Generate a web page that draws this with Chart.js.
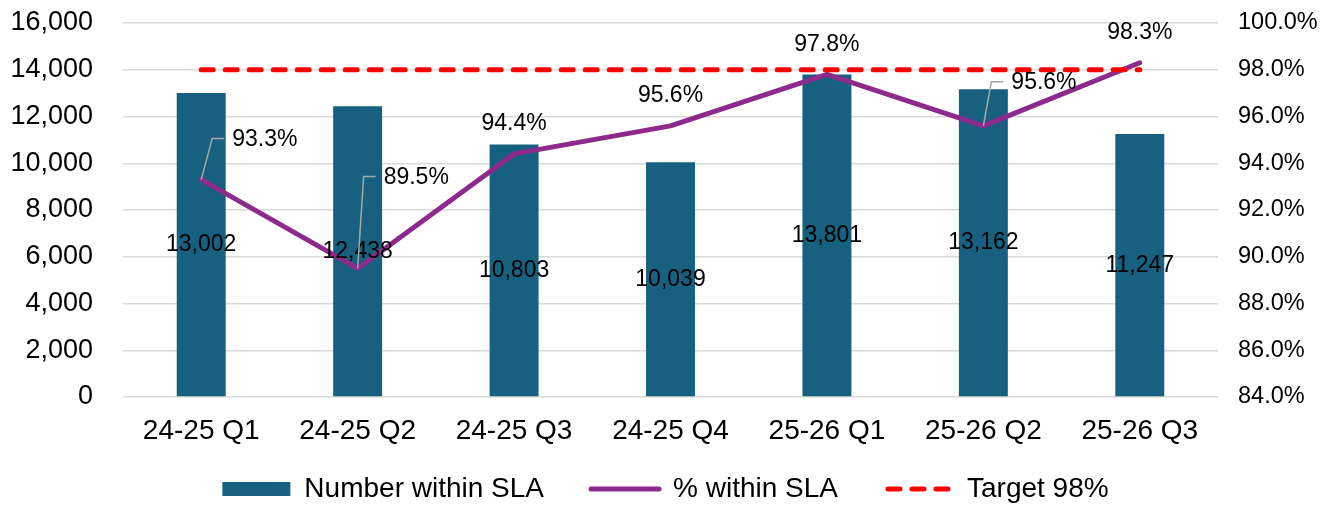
<!DOCTYPE html>
<html>
<head>
<meta charset="utf-8">
<script src="https://cdn.jsdelivr.net/npm/chart.js@4/dist/chart.umd.min.js"></script>
<style>
  html, body { margin: 0; padding: 0; background: #ffffff; }
  #wrap { width: 1331px; height: 505px; }
</style>
</head>
<body>
<div id="wrap"><canvas id="slaChart" width="1331" height="505"></canvas></div>
<script>
// Quarterly SLA performance
const quarters = ['24-25 Q1', '24-25 Q2', '24-25 Q3', '24-25 Q4', '25-26 Q1', '25-26 Q2', '25-26 Q3'];
const numberWithinSla = [13002, 12438, 10803, 10039, 13801, 13162, 11247];
const pctWithinSla = [93.3, 89.5, 94.4, 95.6, 97.8, 95.6, 98.3];
const targetPct = [98, 98, 98, 98, 98, 98, 98];
const countTicks = [0, 2000, 4000, 6000, 8000, 10000, 12000, 14000, 16000];
const pctTicks = [84, 86, 88, 90, 92, 94, 96, 98, 100];

const FONT = '"Liberation Sans", Arial, sans-serif';
const BAR_COLOR = '#17607f';
const LINE_COLOR = '#8f2a8d';
const TARGET_COLOR = '#ff0000';
const TARGET_DASH = [12, 12];

// Leader-line offsets [dx, dy] for the percentage labels that sit off to the side
const pctLeaders = [[11, -41], [6, -92], null, null, null, [8, -44], null];

const valueLabels = {
  id: 'valueLabels',
  afterDatasetsDraw(chart) {
    const ctx = chart.ctx;
    ctx.save();
    ctx.fillStyle = '#000000';
    ctx.font = '23px ' + FONT;
    ctx.textBaseline = 'middle';

    // counts, centred inside each bar
    ctx.textAlign = 'center';
    chart.getDatasetMeta(0).data.forEach((bar, i) => {
      ctx.fillText(numberWithinSla[i].toLocaleString('en-US'), bar.x, (bar.y + bar.base) / 2);
    });

    // percentages, above the point or at the end of a leader line
    chart.getDatasetMeta(1).data.forEach((pt, i) => {
      const text = pctWithinSla[i].toFixed(1) + '%';
      const lead = pctLeaders[i];
      if (lead) {
        const ex = pt.x + lead[0];
        const ey = pt.y + lead[1];
        ctx.strokeStyle = '#a6a6a6';
        ctx.lineWidth = 1.5;
        ctx.beginPath();
        ctx.moveTo(pt.x, pt.y);
        ctx.lineTo(ex, ey);
        ctx.lineTo(ex + 12, ey);
        ctx.stroke();
        ctx.textAlign = 'left';
        ctx.fillText(text, ex + 20, ey + 1);
      } else {
        ctx.textAlign = 'center';
        ctx.fillText(text, pt.x, pt.y - 30);
      }
    });
    ctx.restore();
  }
};

new Chart(document.getElementById('slaChart'), {
  data: {
    labels: quarters,
    datasets: [
      {
        type: 'bar',
        label: 'Number within SLA',
        data: numberWithinSla,
        backgroundColor: BAR_COLOR,
        borderWidth: 0,
        barPercentage: 1,
        categoryPercentage: 0.313,
        yAxisID: 'yCount',
        order: 3
      },
      {
        type: 'line',
        label: '% within SLA',
        data: pctWithinSla,
        borderColor: LINE_COLOR,
        backgroundColor: LINE_COLOR,
        borderWidth: 5,
        borderCapStyle: 'round',
        borderJoinStyle: 'round',
        pointRadius: 0,
        tension: 0,
        yAxisID: 'yPct',
        order: 2
      },
      {
        type: 'line',
        label: 'Target 98%',
        data: targetPct,
        borderColor: TARGET_COLOR,
        backgroundColor: TARGET_COLOR,
        borderWidth: 5,
        borderDash: TARGET_DASH,
        borderCapStyle: 'round',
        pointRadius: 0,
        tension: 0,
        yAxisID: 'yPct',
        order: 1
      }
    ]
  },
  options: {
    responsive: false,
    animation: false,
    devicePixelRatio: 1,
    layout: { padding: { top: 23, right: 0, bottom: -8, left: 0 } },
    plugins: {
      tooltip: { enabled: false },
      legend: {
        position: 'bottom',
        labels: {
          usePointStyle: true,
          pointStyleWidth: 68,
          boxHeight: 14,
          padding: 47,
          color: '#000000',
          font: { family: FONT, size: 28 },
          sort: (a, b) => a.datasetIndex - b.datasetIndex,
          generateLabels(chart) {
            const items = Chart.defaults.plugins.legend.labels.generateLabels(chart);
            items.forEach(it => {
              if (it.datasetIndex === 0) {
                it.pointStyle = 'rect';
                it.lineWidth = 0;
              } else {
                it.pointStyle = 'line';
                it.lineWidth = 5;
                it.lineCap = 'round';
                it.lineDash = it.datasetIndex === 2 ? TARGET_DASH : [];
                it.lineDashOffset = it.datasetIndex === 2 ? -3 : 0;
              }
            });
            return items;
          }
        }
      }
    },
    scales: {
      x: {
        grid: { display: false },
        border: { display: false },
        ticks: {
          color: '#000000',
          font: { family: FONT, size: 28 },
          padding: 9,
          maxRotation: 0,
          autoSkip: false
        },
        afterFit(scale) {
          scale.height = 31;
          // let the category labels run below the axis box
          scale._computeLabelArea = () => undefined;
        }
      },
      yCount: {
        position: 'left',
        min: countTicks[0],
        max: countTicks[countTicks.length - 1],
        afterBuildTicks(scale) { scale.ticks = countTicks.map(v => ({ value: v })); },
        grid: { color: '#d9d9d9', lineWidth: 1.5, drawTicks: false },
        border: { display: false },
        ticks: {
          color: '#000000',
          font: { family: FONT, size: 27 },
          padding: 30,
          callback: v => v.toLocaleString('en-US')
        },
        afterFit(scale) {
          scale.width = 123;
          scale.paddingTop = 0;
          scale.paddingBottom = 0;
        }
      },
      yPct: {
        position: 'right',
        min: pctTicks[0],
        max: pctTicks[pctTicks.length - 1],
        afterBuildTicks(scale) { scale.ticks = pctTicks.map(v => ({ value: v })); },
        grid: { drawOnChartArea: false, drawTicks: false },
        border: { display: false },
        ticks: {
          color: '#000000',
          font: { family: FONT, size: 23.5 },
          padding: 20,
          callback: v => v.toFixed(1) + '%'
        },
        afterFit(scale) {
          scale.width = 113;
          scale.paddingTop = 0;
          scale.paddingBottom = 0;
        }
      }
    }
  },
  plugins: [valueLabels]
});
</script>
</body>
</html>
